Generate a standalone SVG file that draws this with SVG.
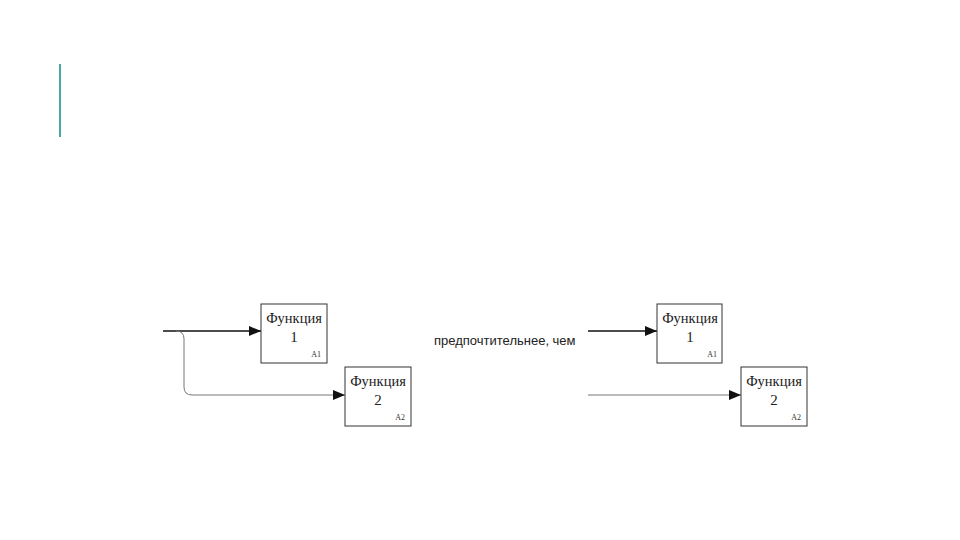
<svg xmlns="http://www.w3.org/2000/svg" width="960" height="540" viewBox="0 0 960 540">
<style>
.box{fill:#fff;stroke:#333;stroke-width:1}
.t{font-family:"Liberation Serif",serif;font-size:14.5px;fill:#222;text-anchor:middle}
.n{font-family:"Liberation Serif",serif;font-size:15px;fill:#222;text-anchor:middle}
.id{font-family:"Liberation Serif",serif;font-size:8px;fill:#333;text-anchor:end}
.thick{stroke:#111;stroke-width:1.5;fill:none}
.thin{stroke:#777;stroke-width:1;fill:none}
.lbl{font-family:"Liberation Sans",sans-serif;font-size:13px;fill:#222}
</style>
<defs>
<marker id="ah" markerWidth="12" markerHeight="10" refX="12" refY="5" orient="auto" markerUnits="userSpaceOnUse">
<path d="M0,0 L12,5 L0,10 Z" fill="#111"/>
</marker>
</defs>
<rect width="960" height="540" fill="#fff"/>
<line x1="60" y1="64" x2="60" y2="137" stroke="#4aa8a8" stroke-width="2"/>
<g id="connectors">
<path class="thick" d="M163,331 L261,331" marker-end="url(#ah)"/>
<path class="thin" d="M176,331 Q184,331 184,339 L184,387 Q184,395 192,395 L345,395" marker-end="url(#ah)"/>
<path class="thick" d="M588,331 L657,331" marker-end="url(#ah)"/>
<path class="thin" d="M588,395 L741,395" marker-end="url(#ah)"/>
</g>
<g id="label"><text class="lbl" x="434" y="345">предпочтительнее, чем</text></g>
<g id="L-A1">
<rect class="box" x="261" y="304" width="66" height="59"/>
<text class="t" x="294" y="323">Функция</text>
<text class="n" x="294" y="342">1</text>
<text class="id" x="321" y="357">A1</text>
</g>
<g id="L-A2">
<rect class="box" x="345" y="367" width="66" height="59"/>
<text class="t" x="378" y="386">Функция</text>
<text class="n" x="378" y="405">2</text>
<text class="id" x="405" y="420">A2</text>
</g>
<g id="R-A1">
<rect class="box" x="657" y="304" width="65" height="59"/>
<text class="t" x="690" y="323">Функция</text>
<text class="n" x="690" y="342">1</text>
<text class="id" x="717" y="357">A1</text>
</g>
<g id="R-A2">
<rect class="box" x="741" y="367" width="66" height="59"/>
<text class="t" x="774" y="386">Функция</text>
<text class="n" x="774" y="405">2</text>
<text class="id" x="801" y="420">A2</text>
</g>
</svg>
